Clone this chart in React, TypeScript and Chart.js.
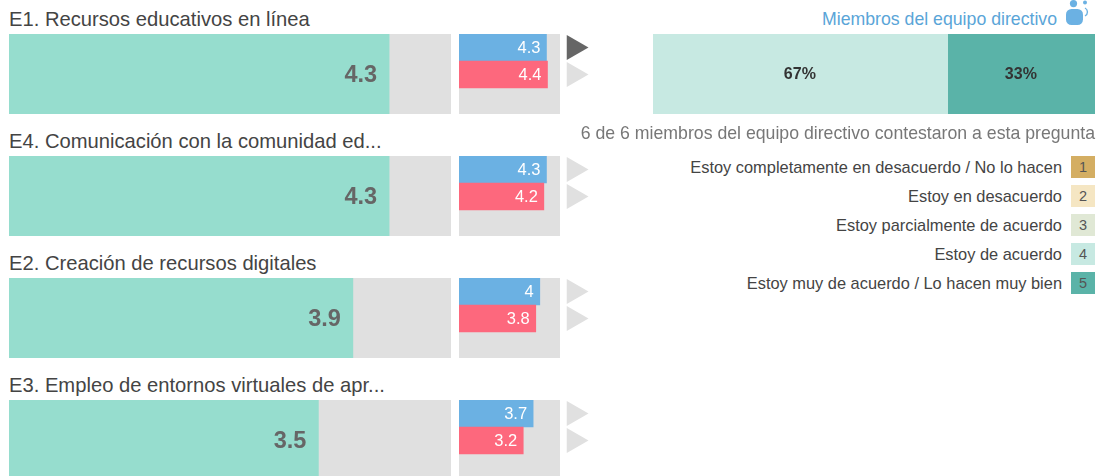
import React, { useEffect, useRef } from "react";
import { Chart, registerables } from "chart.js";

Chart.register(...registerables);

const FONT = '"Liberation Sans", Arial, sans-serif';

const titles = [
  "E1. Recursos educativos en línea",
  "E4. Comunicación con la comunidad ed...",
  "E2. Creación de recursos digitales",
  "E3. Empleo de entornos virtuales de apr...",
];
const overallValues = [4.3, 4.3, 3.89, 3.5];
const directiveValues = [4.33, 4.33, 4.0, 3.67];
const othersValues = [4.38, 4.2, 3.8, 3.18];
const arrowActive = [
  [true, false],
  [false, false],
  [false, false],
  [false, false],
];
const SCALE_MAX = 5;

const shareLabels = ["4", "5"];
const shareValues = [66.67, 33.33];

const headerLabel = "Miembros del equipo directivo";
const answeredLabel = "6 de 6 miembros del equipo directivo contestaron a esta pregunta";
const legendLabels = [
  "Estoy completamente en desacuerdo / No lo hacen",
  "Estoy en desacuerdo",
  "Estoy parcialmente de acuerdo",
  "Estoy de acuerdo",
  "Estoy muy de acuerdo / Lo hacen muy bien",
];
const legendColors = ["#d4ae63", "#f5e6c3", "#e0e8d5", "#c7e9e2", "#5ab3a8"];

const TRACK = "#e0e0e0";
const BLUE = "#6bb1e3";
const RED = "#fd687d";
const TEAL = "#96ddce";

const oneDecimal = (v: number) => String(Number(v.toFixed(1)));

function valueLabels(font: string, color: string, inset: number, fmt: (v: number) => string, centered = false, dy = 1) {
  return {
    id: "valueLabels",
    afterDatasetsDraw(chart: any) {
      const ctx = chart.ctx;
      ctx.save();
      ctx.font = font;
      ctx.fillStyle = color;
      ctx.textBaseline = "middle";
      chart.data.datasets.forEach((ds: any, i: number) => {
        if (ds.isTrack) return;
        chart.getDatasetMeta(i).data.forEach((bar: any, j: number) => {
          const v = ds.data[j];
          if (v == null) return;
          if (centered) {
            ctx.textAlign = "center";
            ctx.fillText(fmt(v), (bar.base + bar.x) / 2 - 0.5, bar.y + dy);
          } else {
            ctx.textAlign = "right";
            ctx.fillText(fmt(v), bar.x - inset, bar.y + dy);
          }
        });
      });
      ctx.restore();
    },
  };
}

const hiddenScales = (max: number, stacked = false) => ({
  x: { display: false, min: 0, max, stacked },
  y: { display: false, stacked },
});

function useChart(build: () => any) {
  const ref = useRef<HTMLCanvasElement>(null);
  useEffect(() => {
    const chart = new Chart(ref.current as HTMLCanvasElement, build());
    return () => chart.destroy();
  }, []);
  return ref;
}

function baseOptions(scales: any) {
  return {
    indexAxis: "y",
    responsive: false,
    animation: false,
    layout: { padding: 0 },
    plugins: { legend: { display: false }, tooltip: { enabled: false } },
    scales,
  };
}

function OverallBar({ value, top }: { value: number; top: number }) {
  const ref = useChart(() => ({
    type: "bar",
    data: {
      labels: ["Global"],
      datasets: [
        { data: [value], backgroundColor: TEAL, barPercentage: 1, categoryPercentage: 1, grouped: false, order: 1 },
        { isTrack: true, data: [SCALE_MAX], backgroundColor: TRACK, barPercentage: 1, categoryPercentage: 1, grouped: false, order: 2 },
      ],
    },
    options: baseOptions(hiddenScales(SCALE_MAX)),
    plugins: [valueLabels(`bold 23.5px ${FONT}`, "#666666", 12, oneDecimal, false, 2)],
  }));
  return <canvas ref={ref} width={442} height={80} style={{ position: "absolute", left: 9, top }} />;
}

function CompareBars({ blue, red, top }: { blue: number; red: number; top: number }) {
  const ref = useChart(() => ({
    type: "bar",
    data: {
      labels: ["Equipo", "Otros", ""],
      datasets: [
        { data: [blue, red, null], backgroundColor: [BLUE, RED, RED], barPercentage: 1, categoryPercentage: 1, grouped: false, order: 1 },
        { isTrack: true, data: [SCALE_MAX, SCALE_MAX, SCALE_MAX], backgroundColor: TRACK, barPercentage: 1, categoryPercentage: 1, grouped: false, order: 2 },
      ],
    },
    options: baseOptions(hiddenScales(SCALE_MAX)),
    plugins: [valueLabels(`16.5px ${FONT}`, "#ffffff", 6, oneDecimal)],
  }));
  return (
    <canvas
      ref={ref}
      width={101}
      height={81}
      style={{ position: "absolute", left: 458.6, top, clipPath: "inset(0 0 1px 0)" }}
    />
  );
}

function Arrows({ active, top }: { active: boolean[]; top: number }) {
  const ref = useChart(() => ({
    type: "scatter",
    data: {
      datasets: [
        {
          data: active.map((_, i) => ({ x: 0, y: i })),
          pointStyle: "triangle",
          rotation: 90,
          radius: 14.5,
          borderWidth: 0,
          clip: false,
          backgroundColor: active.map((a) => (a ? "#666666" : TRACK)),
        },
      ],
    },
    options: {
      responsive: false,
      animation: false,
      layout: { padding: 0, autoPadding: false },
      plugins: { legend: { display: false }, tooltip: { enabled: false } },
      scales: {
        x: { display: false, min: -1, max: 1 },
        y: { display: false, min: -0.5, max: 2.5, reverse: true },
      },
    },
  }));
  return <canvas ref={ref} width={34} height={81} style={{ position: "absolute", left: 557, top }} />;
}

function ShareBar() {
  const ref = useChart(() => ({
    type: "bar",
    data: {
      labels: ["Equipo directivo"],
      datasets: shareValues.map((v, i) => ({
        label: shareLabels[i],
        data: [v],
        backgroundColor: legendColors[Number(shareLabels[i]) - 1],
        barPercentage: 1,
        categoryPercentage: 1,
      })),
    },
    options: baseOptions(hiddenScales(100, true)),
    plugins: [valueLabels(`bold 16px ${FONT}`, "#333333", 0, (v) => `${Math.round(v)}%`, true)],
  }));
  return <canvas ref={ref} width={442} height={80} style={{ position: "absolute", left: 653, top: 34 }} />;
}

const text = (style: React.CSSProperties): React.CSSProperties => ({
  position: "absolute",
  whiteSpace: "nowrap",
  fontFamily: FONT,
  lineHeight: "22px",
  ...style,
});

export default function App() {
  const rowTops = [34, 156, 278, 400];
  return (
    <div style={{ position: "absolute", left: 0, top: 0, width: 1101, height: 476, overflow: "hidden", background: "#fff", filter: "blur(0.35px)" }}>
      {titles.map((t, i) => (
        <div key={t} style={text({ left: 9, top: rowTops[i] - 26, fontSize: 20.2, color: "#444444" })}>
          {t}
        </div>
      ))}
      {rowTops.map((top, i) => (
        <React.Fragment key={top}>
          <OverallBar value={overallValues[i]} top={top} />
          <CompareBars blue={directiveValues[i]} red={othersValues[i]} top={top} />
          <Arrows active={arrowActive[i]} top={top} />
        </React.Fragment>
      ))}
      <div style={text({ right: 44, top: 8, fontSize: 17.7, color: "#5aa5d8" })}>{headerLabel}</div>
      <svg width={26} height={28} style={{ position: "absolute", left: 1065, top: 0 }} viewBox="0 0 26 28">
        <circle cx={8.5} cy={3.6} r={3.6} fill={BLUE} />
        <circle cx={20} cy={2.6} r={2} fill={BLUE} />
        <rect x={1} y={9} width={17} height={16} rx={5.5} fill={BLUE} />
        <path d="M20 8 A4.5 4.5 0 0 1 20 16" fill="none" stroke={BLUE} strokeWidth={1.4} />
      </svg>
      <ShareBar />
      <div style={text({ right: 6, top: 122, fontSize: 17.7, color: "#777777" })}>{answeredLabel}</div>
      {legendLabels.map((l, i) => (
        <React.Fragment key={l}>
          <div style={text({ right: 39, top: 156 + i * 29, fontSize: 16.4, color: "#444444" })}>{l}</div>
          <div
            style={text({
              left: 1071,
              top: 156 + i * 29,
              width: 24,
              height: 22,
              background: legendColors[i],
              textAlign: "center",
              fontSize: 14.5,
              color: "#555555",
            })}
          >
            {i + 1}
          </div>
        </React.Fragment>
      ))}
    </div>
  );
}
